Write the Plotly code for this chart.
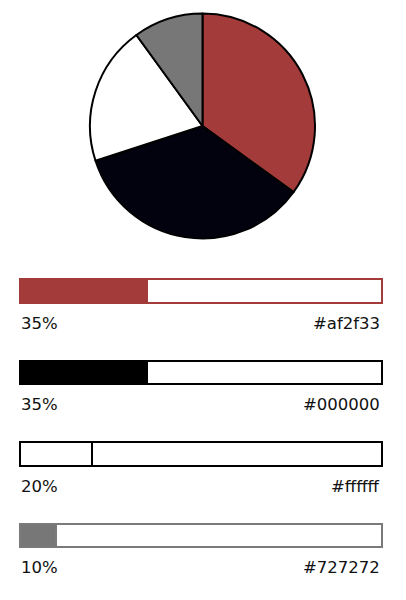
import plotly.graph_objects as go

# Data
labels = ["#af2f33", "#000000", "#ffffff", "#727272"]
percents = [35, 35, 20, 10]
pie_colors = ["#a33b3b", "#02020f", "#ffffff", "#777777"]
bar_fill_colors = ["#a33b3b", "#000000", "#ffffff", "#777777"]
border_colors = ["#a33b3b", "#000000", "#000000", "#7a7a7a"]
pct_text = ["35%", "35%", "20%", "10%"]

W, H = 406, 600
fig = go.Figure()

# Pie
fig.add_trace(go.Pie(
    labels=labels, values=percents, sort=False, direction="clockwise",
    rotation=0,
    marker=dict(colors=pie_colors, line=dict(color="#000000", width=2)),
    textinfo="none", hoverinfo="skip", showlegend=False,
    domain=dict(x=[(202.5 - 112.5) / W, (202.5 + 112.5) / W],
                y=[1 - 238.5 / H, 1 - 13.5 / H]),
))

idx = list(range(len(labels)))
# Background full bars
fig.add_trace(go.Bar(
    x=[100] * len(labels), y=idx, orientation="h", width=0.29,
    marker=dict(color="#ffffff", line=dict(color=border_colors, width=2)),
    hoverinfo="skip", showlegend=False,
))
# Filled portion
fig.add_trace(go.Bar(
    x=percents, y=idx, orientation="h", width=0.29,
    marker=dict(color=bar_fill_colors, line=dict(color=border_colors, width=2)),
    hoverinfo="skip", showlegend=False,
))

font = dict(family="DejaVu Sans", size=16.5, color="#111111")
annotations = []
for i in idx:
    annotations.append(dict(x=0, y=i + 0.395, xref="x", yref="y", text=pct_text[i],
                            showarrow=False, xanchor="left", yanchor="middle",
                            font=font, xshift=-1))
    annotations.append(dict(x=100, y=i + 0.395, xref="x", yref="y", text=labels[i],
                            showarrow=False, xanchor="right", yanchor="middle",
                            font=font, xshift=0))

px_per_unit_y = 81.5
top = -291 / px_per_unit_y
bottom = top + H / px_per_unit_y
px_per_unit_x = 362 / 100
fig.update_layout(
    width=W, height=H, margin=dict(l=0, r=0, t=0, b=0),
    paper_bgcolor="white", plot_bgcolor="white",
    barmode="overlay", bargap=0,
    xaxis=dict(range=[-20 / px_per_unit_x, (W - 20) / px_per_unit_x], visible=False, fixedrange=True),
    yaxis=dict(range=[bottom, top], visible=False, fixedrange=True),
    annotations=annotations,
)

fig.write_html("out.html", config={"displayModeBar": False},
               post_script="document.body.style.margin='0';document.body.style.overflow='hidden';")
